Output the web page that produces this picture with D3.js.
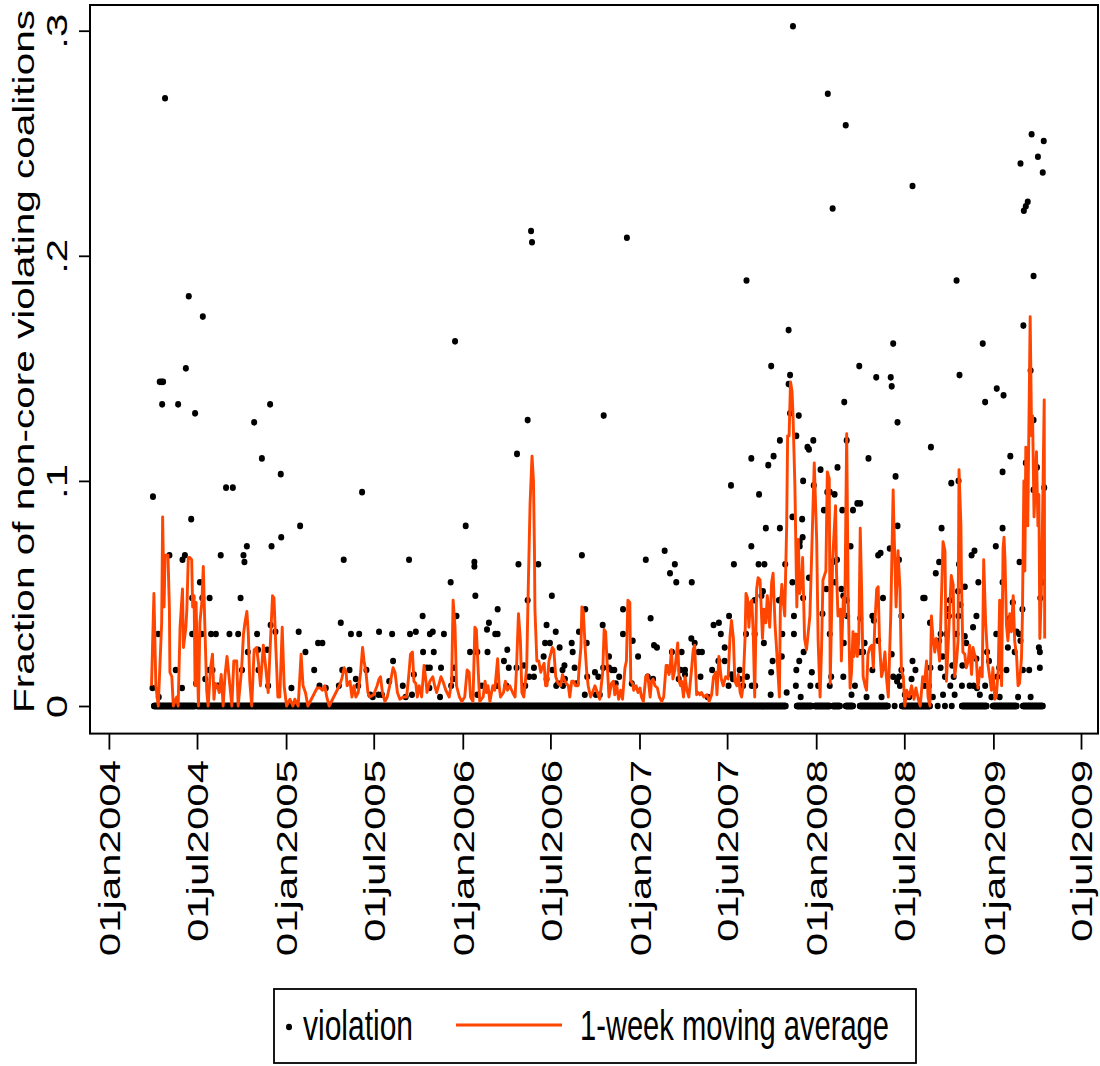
<!DOCTYPE html>
<html>
<head>
<meta charset="utf-8">
<script src="https://cdn.jsdelivr.net/npm/d3@7"></script>
<style>
  body { margin: 0; background: #fff; }
  svg { font-family: "Liberation Sans", Arial, Helvetica, sans-serif; }
</style>
</head>
<body>
<svg id="chart" width="1100" height="1066"></svg>
<script>
// all day numbers below count days since 01jan2004
var startDate = new Date(2004, 0, 1);
var endDate = new Date(2009, 6, 1);

// days on which a zero-valued observation is plotted
var zeroSpans = [[93,178],[182,1398],[1421,1452],[1458,1489],[1495,1510],[1522,1537],[1551,1609],
  [1623,1623],[1638,1696],[1712,1712],[1727,1727],[1741,1741],[1762,1813],[1826,1875],[1888,1929]];

// non-zero violation values, [day, fraction]
var violations0405 = [[90,.008],[91,.093],[102,.032],[103,.004],[105,.144],[109,.144],[110,.134],[112,.144],[116,.27],
  [125,.067],[138,.016],[143,.134],[151,.008],[152,.065],[157,.067],[159,.15],[165,.182],[170,.083],[172,.032],[172,.048],
  [178,.13],[180,.01],[188,.055],[192,.032],[193,.048],[194,.173],[199,.012],[207,.016],[208,.048],[211,.032],[214,.016],
  [221,.032],[225,.009],[231,.067],[242,.097],[249,.032],[256,.097],[267,.032],[272,.048],[275,.016],[278,.067],[280,.064],
  [285,.071],[287,.024],[300,.126],[306,.032],[308,.025],[309,.016],[316,.11],[327,.025],[329,.009],[333,.134],[334,.036],
  [336,.071],[344,.033],[355,.103],[356,.075],[377,.008],[392,.033],[395,.08],[406,.024],[424,.016],[432,.028],[435,.009],
  [441,.028],[448,.008],[475,.009],[479,.037],[482,.016],[485,.065],[497,.016],[500,.032],[510,.012],[515,.009],[517,.032],
  [523,.095],[532,.016],[540,.005],[545,.004],[557,.005],[558,.033],[564,.005],[579,.011],[585,.032],[587,.02],[607,.009],
  [613,.004],[620,.065],[622,.032],[626,.005],[630,.014],[634,.033],[648,.04],[649,.024],[657,.017],[662,.008],[663,.032],
  [663,.017],[669,.033],[671,.024],[684,.004],[686,.017],[692,.032],[706,.055],[707,.009],[711,.012],[713,.017],[715,.162],
  [718,.04]];

var violations0607 = [[737,.08],[746,.024],[755,.064],[755,.062],[757,.049],[761,.024],[761,.005],[770,.009],[781,.034],
  [782,.024],[785,.037],[798,.032],[801,.009],[803,.043],[803,.032],[816,.02],[821,.009],[823,.025],[826,.017],[842,.017],
  [843,.112],[846,.063],[857,.018],[860,.009],[865,.127],[865,.047],[868,.013],[872,.211],[874,.206],[878,.017],[878,.013],
  [887,.063],[898,.022],[901,.028],[904,.036],[904,.012],[911,.028],[915,.049],[916,.016],[923,.033],[924,.009],[928,.01],
  [931,.026],[937,.016],[938,.009],[941,.018],[942,.012],[956,.028],[958,.024],[962,.017],[966,.01],[971,.033],[977,.067],
  [983,.005],[984,.043],[987,.028],[988,.013],[1004,.015],[1006,.005],[1011,.013],[1014,.005],[1020,.036],[1021,.017],
  [1022,.129],[1033,.017],[1033,.022],[1039,.016],[1044,.016],[1047,.01],[1054,.013],[1062,.043],[1062,.032],[1070,.208],
  [1080,.01],[1082,.029],[1093,.022],[1109,.065],[1113,.013],[1119,.039],[1124,.012],[1126,.027],[1132,.026],[1148,.069],
  [1156,.016],[1159,.059],[1163,.024],[1169,.063],[1172,.055],[1177,.012],[1181,.016],[1183,.024],[1190,.016],[1190,.014],
  [1203,.03],[1204,.055],[1210,.028],[1218,.024],[1222,.013],[1225,.024],[1237,.004],[1246,.016],[1249,.036],[1259,.02],
  [1260,.037],[1264,.032],[1272,.026],[1272,.02],[1280,.009],[1281,.04],[1285,.098],[1286,.014],[1289,.012],[1291,.063],
  [1303,.016],[1303,.012],[1310,.009],[1316,.032],[1317,.189],[1318,.013],[1327,.11],[1327,.071],[1328,.009],[1334,.047],
  [1334,.032],[1335,.009],[1342,.063],[1343,.094],[1348,.049],[1351,.051],[1353,.028],[1354,.063],[1357,.079],[1362,.107],
  [1367,.005],[1368,.015],[1368,.151],[1371,.02],[1373,.111],[1384,.047],[1386,.118],[1386,.079],[1390,.022],[1391,.048],
  [1391,.032],[1397,.063],[1400,.006],[1404,.143],[1404,.167],[1407,.13],[1407,.147],[1412,.084],[1412,.055],[1413,.302],
  [1415,.032],[1415,.04],[1419,.009],[1420,.12],[1420,.016],[1425,.129],[1426,.02],[1427,.073],[1427,.071],[1429,.004],
  [1432,.083],[1433,.075],[1434,.1],[1434,.048],[1435,.024],[1443,.115],[1446,.114],[1446,.057],[1449,.009],[1452,.015],
  [1455,.118],[1456,.098]];

var violations0809 = [[1465,.009],[1470,.105],[1474,.041],[1477,.087],[1482,.052],[1484,.095],[1485,.272],[1489,.095],
  [1489,.032],[1489,.009],[1492,.013],[1495,.064],[1495,.221],[1499,.094],[1500,.055],[1504,.065],[1505,.106],[1513,.052],
  [1515,.087],[1517,.013],[1517,.049],[1518,.028],[1519,.135],[1522,.258],[1524,.047],[1524,.118],[1525,.04],[1532,.071],
  [1534,.005],[1537,.087],[1541,.009],[1544,.031],[1546,.09],[1550,.151],[1551,.024],[1552,.09],[1552,.039],[1558,.024],
  [1561,.028],[1565,.004],[1569,.11],[1577,.04],[1577,.016],[1580,.038],[1585,.146],[1589,.067],[1589,.029],[1594,.068],
  [1596,.004],[1599,.048],[1599,.017],[1613,.07],[1615,.146],[1617,.023],[1617,.142],[1620,.161],[1620,.013],[1625,.102],
  [1628,.011],[1629,.126],[1629,.08],[1632,.065],[1632,.013],[1634,.009],[1637,.04],[1637,.016],[1644,.005],[1653,.004],
  [1658,.012],[1660,.02],[1660,.231],[1666,.016],[1682,.048],[1685,.048],[1685,.009],[1694,.009],[1696,.037],[1697,.017],
  [1698,.115],[1702,.004],[1708,.059],[1715,.064],[1715,.029],[1718,.032],[1718,.017],[1720,.079],[1722,.022],[1723,.005],
  [1727,.013],[1730,.032],[1733,.043],[1735,.04],[1737,.047],[1738,.009],[1740,.099],[1742,.018],[1745,.013],[1747,.005],
  [1751,.032],[1751,.189],[1754,.051],[1755,.1],[1755,.04],[1756,.063],[1757,.147],[1759,.045],[1762,.009],[1763,.018],
  [1768,.053],[1768,.031],[1771,.028],[1778,.009],[1782,.067],[1785,.035],[1786,.009],[1788,.069],[1792,.04],[1792,.021],
  [1793,.008],[1796,.055],[1799,.005],[1805,.161],[1810,.135],[1810,.009],[1814,.024],[1818,.02],[1823,.004],[1832,.071],
  [1833,.032],[1834,.141],[1835,.013],[1839,.017],[1840,.004],[1846,.104],[1846,.055],[1846,.079],[1848,.138],[1854,.016],
  [1857,.026],[1861,.039],[1862,.111],[1867,.046],[1871,.024],[1875,.033],[1878,.004],[1880,.032],[1881,.064],[1883,.029],
  [1883,.241],[1887,.043],[1888,.016],[1889,.169],[1890,.22],[1894,.222],[1894,.108],[1895,.095],[1898,.224],[1901,.016],
  [1904,.149],[1904,.004],[1906,.254],[1910,.096],[1910,.191],[1910,.127],[1917,.106],[1919,.244],[1921,.026],[1923,.024],
  [1923,.017],[1924,.048],[1929,.237],[1929,.055],[1931,.251],[1932,.097]];

// 1-week moving average, [day, fraction]
var movingAvg0405 = [[88,.009],[93,.05],[97,.009],[102,0],[109,.037],[111,.084],[114,.044],[116,.067],[122,.067],[125,.043],
  [126,.015],[130,.013],[133,0],[140,.004],[143,0],[147,.035],[152,.052],[154,.026],[159,.035],[161,.043],[164,.066],
  [167,.066],[171,.065],[173,.044],[176,.049],[178,.009],[180,.046],[185,0],[188,.037],[192,.046],[195,.062],[198,.037],
  [202,.007],[205,0],[210,.017],[214,.023],[217,.003],[220,.01],[224,.009],[228,.006],[232,.014],[236,0],[240,.014],
  [244,.022],[249,.011],[254,0],[258,.02],[264,.02],[267,0],[274,.016],[278,.032],[281,.037],[285,.042],[288,.032],
  [291,.011],[295,0],[300,.025],[305,.026],[309,.019],[313,.009],[319,.027],[324,.017],[329,.006],[335,.035],[338,.049],
  [341,.048],[345,.025],[349,.004],[353,.004],[358,.035],[362,.009],[367,0],[374,.003],[380,0],[384,.003],[391,0],
  [397,.023],[401,.009],[406,.006],[411,0],[430,.008],[436,.008],[441,.007],[446,.009],[450,.004],[455,0],[476,.009],
  [481,.012],[486,.017],[490,.015],[492,.009],[498,.011],[502,.004],[506,.009],[510,.004],[515,.006],[520,.015],[524,.026],
  [527,.02],[531,.015],[535,.006],[539,.004],[547,.005],[554,.009],[558,.012],[561,.013],[565,.006],[570,.002],[575,.004],
  [580,.009],[587,.017],[591,.015],[596,.006],[601,.003],[608,.004],[615,.004],[620,.015],[623,.023],[627,.024],[630,.011],
  [634,.01],[637,.004],[641,.009],[646,.004],[651,.018],[655,.011],[657,.006],[663,.011],[669,.013],[673,.009],[677,.006],
  [681,.009],[686,.013],[690,.011],[696,.007],[703,.004],[708,.011],[711,.047],[715,.035],[718,.009],[724,.004],[729,.002]];

var movingAvg0607 = [[735,.004],[740,.016],[744,.015],[747,.004],[752,.002],[756,.035],[759,.034],[763,.015],[766,.002],
  [773,.004],[777,.011],[780,.006],[783,.009],[787,.002],[793,.009],[797,.007],[803,.021],[806,.009],[809,.004],[815,.006],
  [819,.011],[823,.007],[828,.009],[834,.006],[839,.004],[842,.017],[846,.041],[850,.029],[853,.006],[857,.004],[863,.017],
  [866,.05],[870,.09],[874,.111],[877,.1],[879,.07],[880,.043],[884,.02],[888,.02],[892,.015],[895,.017],[899,.019],
  [902,.009],[905,.009],[909,.02],[916,.026],[919,.025],[923,.013],[928,.01],[933,.009],[937,.014],[940,.012],[945,.01],
  [949,.009],[952,.004],[956,.011],[960,.011],[964,.009],[969,.009],[971,.016],[975,.026],[977,.044],[980,.042],[984,.025],
  [987,.015],[990,.009],[995,.004],[999,.006],[1004,.009],[1009,.006],[1014,.003],[1020,.015],[1023,.034],[1026,.033],
  [1029,.02],[1033,.004],[1038,.01],[1042,.011],[1045,.005],[1049,.009],[1053,.003],[1057,.007],[1061,.003],[1066,.017],
  [1069,.02],[1072,.047],[1076,.046],[1078,.011],[1082,.01],[1084,.007],[1089,.009],[1093,.006],[1097,.008],[1100,.004],
  [1104,.002],[1109,.013],[1113,.014],[1118,.004],[1121,.011],[1124,.012],[1128,.009],[1133,.008],[1137,.004],[1142,.002],
  [1146,.004],[1151,.018],[1154,.018],[1157,.014],[1159,.016],[1162,.025],[1165,.012],[1169,.016],[1171,.02],[1175,.028],
  [1178,.011],[1181,.009],[1183,.011],[1187,.004],[1190,.013],[1194,.007],[1198,.004],[1203,.015],[1207,.025],[1210,.027],
  [1214,.005],[1217,.006],[1221,.005],[1224,.006],[1229,.004],[1235,.005],[1240,.002],[1245,.005],[1249,.013],[1254,.015],
  [1256,.005],[1260,.022],[1265,.012],[1269,.009],[1274,.013],[1279,.012],[1283,.031],[1286,.038],[1290,.03],[1293,.011],
  [1297,.009],[1300,.014],[1304,.006],[1307,.004],[1310,.009],[1314,.03],[1316,.05],[1319,.048],[1322,.035],[1325,.046],
  [1328,.047],[1331,.032],[1334,.004],[1338,.052],[1341,.057],[1345,.056],[1348,.041],[1350,.03],[1353,.043],[1357,.037],
  [1360,.049],[1365,.035],[1369,.055],[1372,.059],[1376,.036],[1379,.026],[1385,.004],[1387,.044],[1390,.054],[1393,.046],
  [1396,.04],[1400,.08],[1402,.12],[1405,.12],[1408,.144],[1411,.14],[1413,.13],[1417,.098],[1421,.044],[1424,.074],
  [1427,.05],[1431,.055],[1433,.066],[1437,.03],[1441,.025],[1448,.04],[1452,.07],[1457,.108]];

var movingAvg0809 = [[1462,.074],[1465,.029],[1469,.004],[1472,.025],[1475,.056],[1481,.06],[1484,.104],[1488,.101],
  [1490,.01],[1495,.065],[1501,.089],[1503,.059],[1506,.04],[1511,.043],[1513,.02],[1517,.048],[1520,.04],[1524,.121],
  [1527,.05],[1531,.008],[1534,.015],[1537,.033],[1539,.022],[1543,.032],[1546,.022],[1549,.029],[1552,.079],[1555,.05],
  [1558,.013],[1562,.009],[1565,.007],[1568,.023],[1572,.026],[1576,.027],[1579,.017],[1582,.036],[1586,.052],[1589,.053],
  [1592,.027],[1596,.013],[1599,.016],[1603,.024],[1606,.013],[1610,.004],[1615,.04],[1620,.096],[1621,.085],[1626,.044],
  [1630,.069],[1634,.052],[1637,.016],[1641,.013],[1644,0],[1648,.007],[1653,.004],[1658,.009],[1663,.003],[1667,.008],
  [1672,.003],[1676,0],[1681,.013],[1685,.011],[1689,.02],[1692,.004],[1696,0],[1699,.04],[1702,.031],[1706,.024],
  [1709,.03],[1713,.026],[1716,.02],[1720,.05],[1723,.073],[1727,.069],[1730,.011],[1734,.029],[1737,.044],[1740,.058],
  [1744,.054],[1747,.013],[1751,.02],[1754,.029],[1756,.105],[1760,.08],[1761,.057],[1764,.024],[1768,.023],[1771,.017],
  [1775,.02],[1778,.027],[1782,.014],[1785,.026],[1788,.023],[1792,.02],[1795,.008],[1800,.017],[1804,.013],[1807,.065],
  [1811,.037],[1816,.018],[1820,.012],[1823,.007],[1826,.017],[1830,.003],[1833,.004],[1837,.016],[1840,.047],[1844,.009],
  [1847,.07],[1849,.075],[1851,.065],[1854,.036],[1857,.029],[1861,.041],[1864,.033],[1868,.049],[1871,.029],[1875,.022],
  [1878,.009],[1881,.01],[1885,.021],[1887,.04],[1890,.1],[1892,.06],[1894,.115],[1898,.08],[1903,.173],[1906,.12],
  [1908,.129],[1911,.084],[1916,.113],[1919,.08],[1921,.094],[1923,.03],[1926,.05],[1929,.09],[1932,.136],[1933,.03]];

var xTickDates = ["2004-01-01","2004-07-01","2005-01-01","2005-07-01","2006-01-01","2006-07-01",
  "2007-01-01","2007-07-01","2008-01-01","2008-07-01","2009-01-01","2009-07-01"];
var yTicks = [0, .1, .2, .3];
var yTickLabels = ["0", ".1", ".2", ".3"];
var yTitle = "Fraction of non-core violating coalitions";
var legendLabels = ["violation", "1-week moving average"];

var lineColor = "#ff4500";
var svg = d3.select("#chart");
var plot = { left: 90, top: 5, right: 1098, bottom: 733.6 };

var x = d3.scaleTime().domain([startDate, endDate]).range([108.9, 1081]);
var y = d3.scaleLinear().domain([0, .3]).range([706, 30.7]);

function dayDate(d) { return d3.timeDay.offset(startDate, d); }

svg.append("rect").attr("width", 1100).attr("height", 1066).attr("fill", "#fff");

// zero observations
var zeros = [];
zeroSpans.forEach(function (s) {
    for (var d = s[0]; d <= s[1]; d++) zeros.push([d, 0]);
});
var points = zeros.concat(violations0405, violations0607, violations0809);

svg.append("g")
    .selectAll("ellipse")
    .data(points)
    .enter()
    .append("ellipse")
    .attr("cx", d => x(dayDate(d[0])))
    .attr("cy", d => y(d[1]))
    .attr("rx", 3)
    .attr("ry", 3.3)
    .attr("fill", "#000");

var ma = movingAvg0405.concat(movingAvg0607, movingAvg0809);
var line = d3.line()
    .x(d => x(dayDate(d[0])))
    .y(d => y(d[1]));

svg.append("path")
    .datum(ma)
    .attr("d", line)
    .attr("fill", "none")
    .attr("stroke", lineColor)
    .attr("stroke-width", 2.9)
    .attr("stroke-linejoin", "round");

// plot region outline
svg.append("rect")
    .attr("x", plot.left).attr("y", plot.top)
    .attr("width", plot.right - plot.left)
    .attr("height", plot.bottom - plot.top)
    .attr("fill", "none")
    .attr("stroke", "#000")
    .attr("stroke-width", 2);

// x axis
var parseDay = d3.timeParse("%Y-%m-%d");
var fmt = d3.timeFormat("%d%b%Y");
var gx = svg.append("g")
    .attr("transform", "translate(0," + plot.bottom + ")")
    .call(d3.axisBottom(x)
        .tickValues(xTickDates.map(parseDay))
        .tickSize(16)
        .tickFormat(d => fmt(d).toLowerCase()));
gx.select(".domain").remove();
gx.attr("font-size", 30).attr("font-family", null);
gx.selectAll(".tick line").attr("stroke", "#000").attr("stroke-width", 1.8);
gx.selectAll(".tick text")
    .attr("x", null).attr("y", null).attr("dy", null)
    .attr("fill", "#000")
    .attr("text-anchor", "end")
    .attr("transform", "translate(10.7," + (760 - plot.bottom) + ") rotate(-90) scale(1.4,1)");

// y axis
var gy = svg.append("g")
    .attr("transform", "translate(" + plot.left + ",0)")
    .call(d3.axisLeft(y)
        .tickValues(yTicks)
        .tickSize(11)
        .tickFormat((d, i) => yTickLabels[i]));
gy.select(".domain").remove();
gy.attr("font-size", 30).attr("font-family", null);
gy.selectAll(".tick line").attr("stroke", "#000").attr("stroke-width", 1.8);
gy.selectAll(".tick text")
    .attr("x", null).attr("y", null).attr("dy", null)
    .attr("fill", "#000")
    .attr("text-anchor", "middle")
    .attr("transform", "translate(-23,0) rotate(-90) scale(1.4,1)");

svg.append("text")
    .attr("transform", "translate(33.5,361.5) rotate(-90)")
    .attr("text-anchor", "middle")
    .attr("font-size", 30)
    .attr("textLength", 703)
    .attr("lengthAdjust", "spacingAndGlyphs")
    .text(yTitle);

// legend
var legend = svg.append("g");
legend.append("rect")
    .attr("x", 274).attr("y", 989)
    .attr("width", 642).attr("height", 74)
    .attr("fill", "#fff")
    .attr("stroke", "#000")
    .attr("stroke-width", 1.8);
legend.append("ellipse")
    .attr("cx", 289).attr("cy", 1027)
    .attr("rx", 3).attr("ry", 3.3)
    .attr("fill", "#000");
legend.append("text")
    .attr("transform", "translate(303,1040) scale(1,1.42)")
    .attr("font-size", 30)
    .attr("textLength", 110)
    .attr("lengthAdjust", "spacingAndGlyphs")
    .text(legendLabels[0]);
legend.append("line")
    .attr("x1", 456).attr("x2", 562)
    .attr("y1", 1025).attr("y2", 1025)
    .attr("stroke", lineColor)
    .attr("stroke-width", 2.9);
legend.append("text")
    .attr("transform", "translate(580,1040) scale(1,1.42)")
    .attr("font-size", 30)
    .attr("textLength", 309)
    .attr("lengthAdjust", "spacingAndGlyphs")
    .text(legendLabels[1]);
</script>
</body>
</html>
